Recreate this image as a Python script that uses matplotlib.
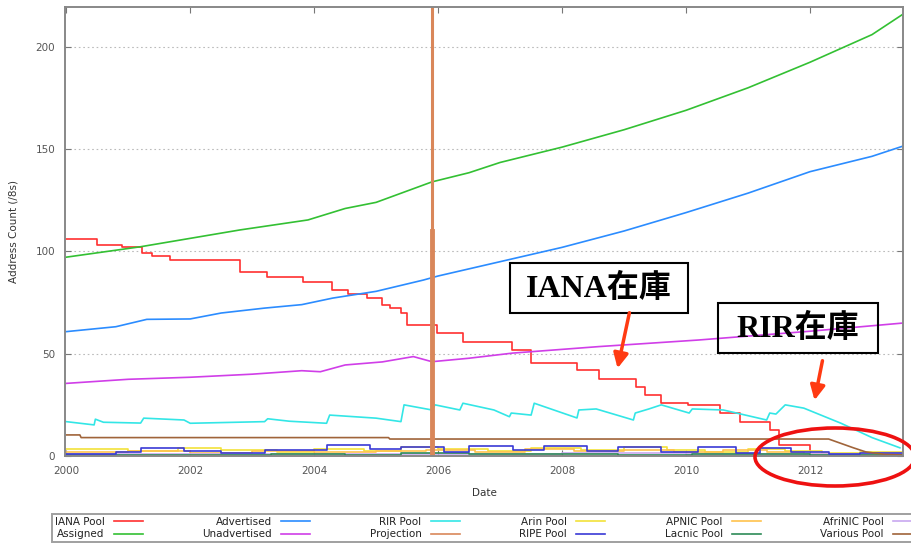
import matplotlib
matplotlib.use("Agg")
import matplotlib.pyplot as plt
from matplotlib.patches import Ellipse, Rectangle, FancyArrowPatch

# ---- data (decimal years, /8 counts) ----
assigned_years = [2000.0, 2001.2, 2002.8, 2003.9, 2004.5, 2005.0, 2005.9, 2006.5, 2007.0,
                  2008.0, 2009.0, 2010.0, 2011.0, 2012.0, 2013.0, 2013.5]
assigned_vals = [97.2, 102.3, 110.5, 115.4, 121.0, 124.0, 134.0, 138.5, 143.5,
                 151.0, 159.5, 169.0, 180.0, 192.5, 206.0, 216.0]

advertised_years = [2000.0, 2000.8, 2001.3, 2002.0, 2002.5, 2003.2, 2003.8, 2004.3, 2005.0,
                    2005.76, 2006.0, 2007.0, 2008.0, 2009.0, 2010.0, 2011.0, 2012.0, 2013.0, 2013.5]
advertised_vals = [60.8, 63.2, 66.8, 67.0, 69.9, 72.3, 74.0, 77.2, 80.5,
                   86.0, 88.0, 95.0, 102.0, 110.0, 119.0, 128.5, 139.0, 146.5, 151.5]

unadvertised_years = [2000.0, 2000.5, 2001.0, 2002.0, 2003.0, 2003.8, 2004.1, 2004.5, 2005.1,
                      2005.6, 2005.9, 2006.5, 2007.2, 2008.6, 2010.2, 2012.0, 2013.5]
unadvertised_vals = [35.5, 36.5, 37.5, 38.5, 40.0, 41.7, 41.2, 44.5, 46.0,
                     48.6, 46.1, 47.8, 50.3, 53.5, 56.7, 61.0, 65.0]

iana_years = [2000.0, 2000.5, 2000.9, 2001.23, 2001.39, 2001.68, 2002.8, 2003.24, 2003.82,
              2004.29, 2004.55, 2004.85, 2005.1, 2005.23, 2005.4, 2005.5, 2005.98, 2006.4,
              2007.19, 2007.5, 2008.24, 2008.6, 2009.2, 2009.34, 2009.6, 2010.03, 2010.55,
              2010.87, 2011.35, 2011.5, 2012.0]
iana_vals = [106, 103, 102, 99, 98, 96, 90, 87.7, 85.3,
             81, 79, 77, 74, 72.3, 70, 64, 60, 55.9,
             51.8, 45.4, 42, 37.5, 33.9, 29.8, 25.8, 25, 21,
             16.8, 12.7, 5.4, 3.0]

rir_years = [2000.0, 2000.45, 2000.47, 2000.6, 2001.2, 2001.25, 2001.9, 2002.0, 2003.2,
             2003.25, 2003.6, 2004.2, 2004.25, 2005.0, 2005.4, 2005.45, 2005.9, 2005.95,
             2006.35, 2006.4, 2006.9, 2007.15, 2007.18, 2007.5, 2007.55, 2008.24, 2008.27,
             2008.55, 2009.15, 2009.18, 2009.4, 2009.6, 2010.05, 2010.1, 2010.6, 2011.3,
             2011.35, 2011.45, 2011.6, 2011.9, 2012.5, 2013.0, 2013.45]
rir_vals = [16.8, 15.2, 18.0, 16.5, 16.1, 18.5, 17.6, 16.0, 16.8,
            18.2, 17.0, 16.0, 20.0, 18.5, 16.8, 25.0, 22.5, 25.0,
            22.5, 25.8, 22.5, 19.2, 21.0, 20.0, 25.8, 18.6, 22.5,
            23.0, 17.6, 21.0, 23.0, 25.0, 21.0, 23.0, 22.5, 17.6,
            21.0, 20.5, 25.0, 23.4, 16.0, 9.0, 4.0]

projection_years = [2005.9, 2005.9]
projection_vals = [0, 230]
projection_peak_vals = [0, 110]

various_years = [2000.0, 2000.22, 2000.24, 2005.2, 2005.22, 2012.3, 2012.7, 2012.9, 2013.2, 2013.5]
various_vals = [10.3, 10.3, 9.0, 9.0, 8.3, 8.3, 4.0, 2.0, 0.8, 0.5]

arin_years = [2000, 2001, 2001.8, 2002.5, 2003.4, 2004.0, 2004.8, 2005.4, 2006.0, 2006.8,
              2007.5, 2008.3, 2009.0, 2009.7, 2010.3, 2011.0, 2011.6, 2012.2, 2012.8, 2013.5]
arin_vals = [3.5, 2.5, 4.0, 3.0, 2.0, 3.5, 2.5, 4.5, 3.5, 2.5,
             4.0, 3.0, 4.5, 3.0, 2.0, 3.5, 2.5, 1.5, 2.0, 1.0]

ripe_years = [2000, 2000.8, 2001.2, 2001.9, 2002.5, 2003.2, 2004.2, 2004.9, 2005.4, 2006.1,
              2006.5, 2007.2, 2007.7, 2008.4, 2008.9, 2009.6, 2010.2, 2010.8, 2011.2, 2011.7,
              2012.3, 2012.8, 2013.5]
ripe_vals = [1.0, 2.0, 4.0, 2.5, 1.5, 3.0, 5.5, 3.5, 4.5, 2.0,
             5.0, 3.0, 5.0, 2.5, 4.5, 2.0, 4.5, 1.5, 4.0, 2.0,
             1.0, 1.5, 0.5]

apnic_years = [2000, 2001.0, 2002.0, 2003.0, 2004.0, 2005.0, 2005.8, 2006.6, 2007.4, 2008.2,
               2009.0, 2009.8, 2010.6, 2011.3, 2011.9, 2012.6, 2013.5]
apnic_vals = [2.0, 2.5, 1.5, 2.5, 2.0, 2.5, 3.0, 2.0, 3.5, 2.5,
              3.0, 2.0, 3.0, 2.0, 1.0, 0.5, 0.3]

lacnic_years = [2000, 2003.3, 2004.5, 2005.4, 2006.5, 2007.5, 2008.9, 2010.1, 2011.0, 2012.0, 2013.5]
lacnic_vals = [0.5, 1.2, 0.3, 1.5, 1.0, 0.8, 0.5, 1.2, 0.8, 0.5, 0.3]

afrinic_years = [2000, 2002, 2004, 2006, 2008, 2010, 2012, 2013.5]
afrinic_vals = [1.0, 1.2, 0.8, 1.0, 1.3, 1.0, 0.8, 0.5]

year_ticks = [2000, 2002, 2004, 2006, 2008, 2010, 2012]
y_ticks = [0, 50, 100, 150, 200]

# ---- figure ----
W, H = 911, 546


def fx(x):
    return x / W


def fy(y):
    return 1 - y / H


fig = plt.figure(figsize=(W / 100, H / 100), dpi=100)
ax = fig.add_axes([fx(65), fy(456), fx(903) - fx(65), fy(7) - fy(456)])

lw = 1.2
l_iana, = ax.step(iana_years, iana_vals, where='post', color='#ff3030', lw=lw, label='IANA Pool')
l_assigned, = ax.plot(assigned_years, assigned_vals, color='#33c033', lw=lw, label='Assigned')
l_adv, = ax.plot(advertised_years, advertised_vals, color='#2b8cff', lw=lw, label='Advertised')
l_unadv, = ax.plot(unadvertised_years, unadvertised_vals, color='#d03ee8', lw=lw, label='Unadvertised')
l_rir, = ax.plot(rir_years, rir_vals, color='#33e6e6', lw=lw, label='RIR Pool')
l_arin, = ax.step(arin_years, arin_vals, where='post', color='#f2e23a', lw=lw, label='Arin Pool')
l_apnic, = ax.step(apnic_years, apnic_vals, where='post', color='#ffc24d', lw=lw, label='APNIC Pool')
l_afrinic, = ax.step(afrinic_years, afrinic_vals, where='post', color='#c8a8f0', lw=lw, label='AfriNIC Pool')
l_lacnic, = ax.step(lacnic_years, lacnic_vals, where='post', color='#2e8b57', lw=lw, label='Lacnic Pool')
l_ripe, = ax.step(ripe_years, ripe_vals, where='post', color='#3a3ad6', lw=lw, label='RIPE Pool')
l_various, = ax.plot(various_years, various_vals, color='#a0643a', lw=lw, label='Various Pool')
l_proj, = ax.plot(projection_years, projection_vals, color='#d9875a', lw=2.2, label='Projection')
ax.plot(projection_years, projection_peak_vals, color='#d9875a', lw=3.5)

ax.set_xlim(1999.98, 2013.5)
ax.set_ylim(0, 219.5)
ax.set_xticks(year_ticks)
ax.set_xticklabels([str(y) for y in year_ticks])
ax.set_yticks(y_ticks)
ax.yaxis.grid(True, linestyle=(0, (1.5, 2.5)), color='#bbbbbb', lw=0.8)
ax.set_axisbelow(True)
ax.tick_params(direction='in', top=True, right=True, length=4, width=0.8,
               color='#777777', labelsize=7.5, labelcolor='#555555', pad=7)
for s in ax.spines.values():
    s.set_color('#888888')
    s.set_linewidth(1.4)
ax.set_xlabel('Date', fontsize=7.5, color='#333333', labelpad=9)
ax.set_ylabel('Address Count (/8s)', fontsize=7.5, color='#333333', labelpad=12)

handles = [l_iana, l_assigned, l_adv, l_unadv, l_rir, l_proj,
           l_arin, l_ripe, l_apnic, l_lacnic, l_afrinic, l_various]
leg = ax.legend(handles=handles, ncol=6, markerfirst=False, loc='upper left',
                bbox_to_anchor=(fx(52), fy(552), fx(925) - fx(52), fy(514) - fy(552)),
                bbox_transform=fig.transFigure, mode='expand', borderaxespad=0,
                fontsize=7.5, handlelength=2.8, handletextpad=0.9, labelspacing=0.25,
                fancybox=False, frameon=True, edgecolor='#888888', borderpad=0.25)
leg.get_frame().set_linewidth(1.4)
for t in leg.get_texts():
    t.set_color('#222222')
    t.set_ha('right')
for h in leg.legend_handles:
    h.set_linewidth(1.2)

# ---- annotations ----
tfont = dict(family=['Liberation Serif', 'Noto Sans CJK JP'], weight='bold', size=23)
fig.patches.append(Rectangle((fx(510), fy(313)), (688 - 510) / W, (313 - 263) / H,
                             transform=fig.transFigure, fill=False, ec='black', lw=1.5))
fig.text(fx(599), fy(289), 'IANA在庫', ha='center', va='center', **tfont)
fig.patches.append(Rectangle((fx(718), fy(353)), (878 - 718) / W, (353 - 303) / H,
                             transform=fig.transFigure, fill=False, ec='black', lw=1.5))
fig.text(fx(798), fy(329), 'RIR在庫', ha='center', va='center', **tfont)

for (x0, y0, x1, y1) in [(630, 310, 617, 371), (823, 358, 814, 403)]:
    fig.patches.append(FancyArrowPatch((fx(x0), fy(y0)), (fx(x1), fy(y1)),
                                       transform=fig.transFigure, arrowstyle='-|>',
                                       mutation_scale=22, lw=2.5, color='#ff3a12'))

fig.patches.append(Ellipse((fx(835), fy(457)), 160 / W, 58 / H, transform=fig.transFigure,
                           fill=False, ec='#ee1111', lw=2.6))

fig.savefig('out.png', dpi=100)
